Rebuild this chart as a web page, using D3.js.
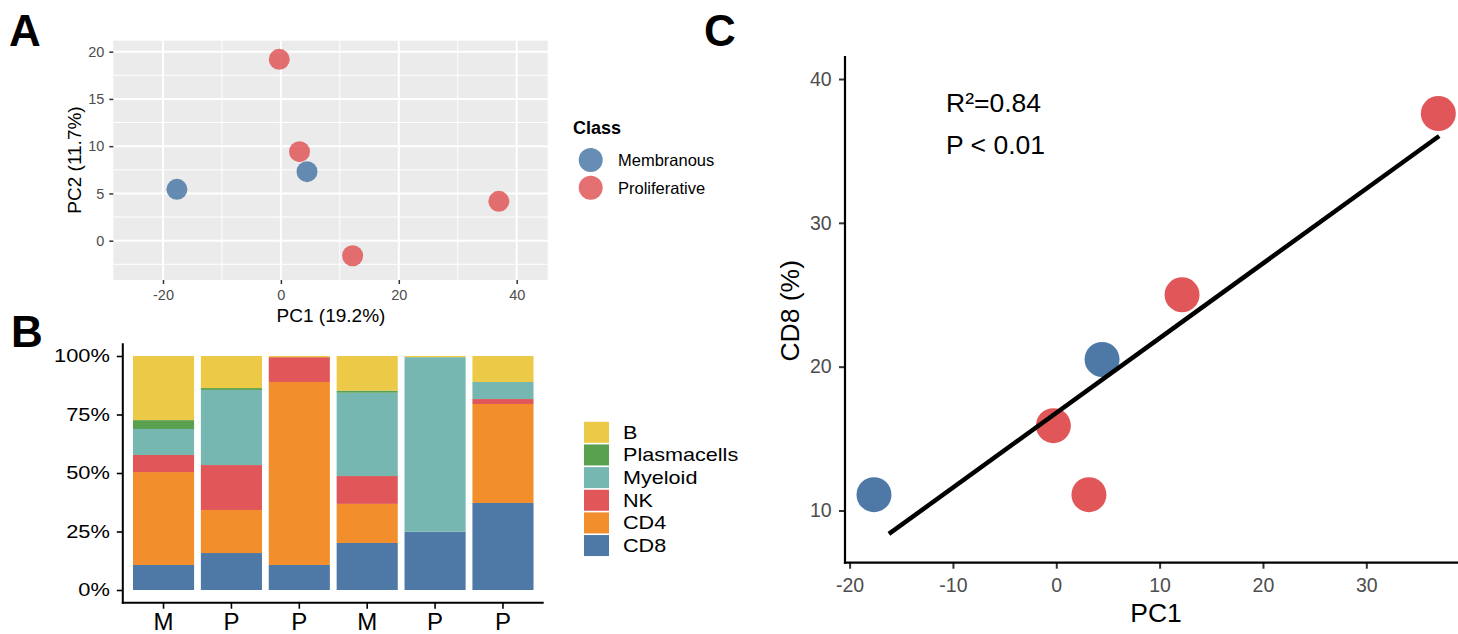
<!DOCTYPE html>
<html>
<head>
<meta charset="utf-8">
<script src="https://cdn.jsdelivr.net/npm/d3@7"></script>
<style>
  body { margin: 0; background: #fff; }
  svg { display: block; font-family: "Liberation Sans", Arial, Helvetica, sans-serif; }
</style>
</head>
<body>
<div id="chart"></div>
<script>
const W = 1458;
const H = 634;

// samples, in bar order
const sampleClass = ["M", "P", "P", "M", "P", "P"];
const pc1 = [-17.64, -0.28, 3.16, 4.43, 12.17, 36.97];
const pc2 = [5.43, 19.19, 9.42, 7.30, -1.59, 4.16];
const cd8Pct = [11.1, 15.9, 11.1, 20.5, 25.0, 37.6];

const classNames = ["Membranous", "Proliferative"];
const classCodes = ["M", "P"];

// cell fractions per sample (stacked bottom -> top)
const cellTypes = ["CD8", "CD4", "NK", "Myeloid", "Plasmacells", "B"];
const fracCD8 = [0.107, 0.158, 0.107, 0.201, 0.249, 0.372];
const fracCD4 = [0.397, 0.184, 0.782, 0.167, 0.000, 0.423];
const fracNK = [0.073, 0.192, 0.106, 0.119, 0.000, 0.021];
const fracMyeloid = [0.111, 0.321, 0.000, 0.356, 0.746, 0.073];
const fracPlasma = [0.038, 0.008, 0.000, 0.009, 0.000, 0.000];
const fracB = [0.274, 0.137, 0.005, 0.148, 0.005, 0.111];

// regression line ends and stats
const fitPC1 = [-16.2, 37.05];
const fitCD8 = [8.37, 36.04];
const statLines = ["R\u00B2=0.84", "P < 0.01"];

// tick values
const pcaXTicks = [-20, 0, 20, 40];
const pcaXMinor = [-10, 10, 30];
const pcaYTicks = [0, 5, 10, 15, 20];
const pcaYMinor = [-2.5, 2.5, 7.5, 12.5, 17.5];
const fracTicks = [0, 0.25, 0.5, 0.75, 1];
const corXTicks = [-20, -10, 0, 10, 20, 30];
const corYTicks = [10, 20, 30, 40];

const classColor = { M: "#4E79A7", P: "#E15759" };
const cellColor = {
  CD8: "#4E79A7", CD4: "#F28E2B", NK: "#E15759",
  Myeloid: "#76B7B2", Plasmacells: "#59A14F", B: "#EDC948"
};
const tickGrey = "#4D4D4D";
const plain = d => String(d);   // keep hyphen minus like R does

const svg = d3.select("#chart").append("svg")
  .attr("width", W).attr("height", H);

// panel letters
[["A", 9, 46], ["B", 11, 347], ["C", 704, 46]].forEach(([t, x, y]) => {
  svg.append("text").attr("x", x).attr("y", y)
    .attr("font-size", 44).attr("font-weight", "bold").text(t);
});

// ---------- A: PCA ----------
const xA = d3.scaleLinear().domain([-28.43, 45.26]).range([113.3, 547.7]);
const yA = d3.scaleLinear().domain([-4.16, 21.16]).range([280, 40.7]);

const gA = svg.append("g");
gA.append("rect")
  .attr("x", xA.range()[0]).attr("y", yA.range()[1])
  .attr("width", xA.range()[1] - xA.range()[0])
  .attr("height", yA.range()[0] - yA.range()[1])
  .attr("fill", "#EBEBEB");

function gridV(vals, sw) {
  gA.selectAll(null).data(vals).enter().append("line")
    .attr("x1", d => xA(d)).attr("x2", d => xA(d))
    .attr("y1", yA.range()[0]).attr("y2", yA.range()[1])
    .attr("stroke", "#fff").attr("stroke-width", sw);
}
function gridH(vals, sw) {
  gA.selectAll(null).data(vals).enter().append("line")
    .attr("y1", d => yA(d)).attr("y2", d => yA(d))
    .attr("x1", xA.range()[0]).attr("x2", xA.range()[1])
    .attr("stroke", "#fff").attr("stroke-width", sw);
}
gridV(pcaXMinor, 1);
gridH(pcaYMinor, 1);
gridV(pcaXTicks, 2);
gridH(pcaYTicks, 2);

const axA_x = gA.append("g").attr("transform", `translate(0,${yA.range()[0]})`)
  .call(d3.axisBottom(xA).tickValues(pcaXTicks).tickFormat(plain).tickSize(4).tickPadding(6));
const axA_y = gA.append("g").attr("transform", `translate(${xA.range()[0]},0)`)
  .call(d3.axisLeft(yA).tickValues(pcaYTicks).tickFormat(plain).tickSize(4).tickPadding(5));
[axA_x, axA_y].forEach(ax => {
  ax.select(".domain").remove();
  ax.selectAll("line").attr("stroke", "#333").attr("stroke-width", 1.5);
  ax.selectAll("text").attr("font-size", 14.5).attr("fill", tickGrey)
    .attr("font-family", "Liberation Sans, Arial, sans-serif");
});

gA.append("text").attr("x", 331).attr("y", 321.7).attr("text-anchor", "middle")
  .attr("font-size", 19).text("PC1 (19.2%)");
gA.append("text").attr("transform", "translate(81,160) rotate(-90)")
  .attr("text-anchor", "middle").attr("font-size", 19).text("PC2 (11.7%)");

gA.selectAll("circle.pt").data(d3.range(pc1.length)).enter().append("circle")
  .attr("class", "pt")
  .attr("cx", i => xA(pc1[i])).attr("cy", i => yA(pc2[i]))
  .attr("r", 10.5)
  .attr("fill", i => classColor[sampleClass[i]])
  .attr("fill-opacity", 0.85);

// legend A
gA.append("text").attr("x", 573).attr("y", 134).attr("font-size", 18)
  .attr("font-weight", "bold").text("Class");
classNames.forEach((name, i) => {
  const cy = 160 + i * 27.7;
  gA.append("circle").attr("cx", 590.7).attr("cy", cy).attr("r", 12)
    .attr("fill", classColor[classCodes[i]]).attr("fill-opacity", 0.85);
  gA.append("text").attr("x", 618).attr("y", cy + 6).attr("font-size", 16.5).text(name);
});

// ---------- B: stacked composition ----------
const fracByType = {
  CD8: fracCD8, CD4: fracCD4, NK: fracNK,
  Myeloid: fracMyeloid, Plasmacells: fracPlasma, B: fracB
};
const rows = sampleClass.map((c, i) => {
  const r = { idx: i, cls: c };
  cellTypes.forEach(t => { r[t] = fracByType[t][i]; });
  return r;
});
const stack = d3.stack().keys(cellTypes)(rows);

const xB = d3.scaleBand().domain(d3.range(sampleClass.length))
  .range([122.8, 543.7]).paddingInner(0.1).paddingOuter(0.15);
const yB = d3.scaleLinear().domain([0, 1]).range([590, 356]);
const stretchB = 1.18;

const gB = svg.append("g");
stack.forEach(layer => {
  gB.selectAll(null).data(layer).enter().append("rect")
    .attr("x", d => xB(d.data.idx))
    .attr("width", xB.bandwidth())
    .attr("y", d => yB(d[1]))
    .attr("height", d => Math.max(0, yB(d[0]) - yB(d[1])))
    .attr("fill", cellColor[layer.key]);
});

const axB_y = gB.append("g").attr("transform", "translate(122.8,0)")
  .call(d3.axisLeft(yB).tickValues(fracTicks).tickFormat(d3.format(".0%"))
    .tickSize(6).tickPadding(7));
axB_y.select(".domain").remove();
axB_y.selectAll("line").attr("stroke", "#000").attr("stroke-width", 1.6);
axB_y.selectAll("text").attr("font-size", 18.5).attr("fill", "#000")
  .attr("font-family", "Liberation Sans, Arial, sans-serif")
  .each(function () {
    const x = +this.getAttribute("x");
    d3.select(this).attr("x", 0)
      .attr("transform", `translate(${x},0) scale(${stretchB},1)`);
  });

const axB_x = gB.append("g").attr("transform", "translate(0,602.7)")
  .call(d3.axisBottom(xB).tickFormat(i => sampleClass[i]).tickSize(6).tickPadding(4));
axB_x.select(".domain").remove();
axB_x.selectAll("line").attr("stroke", "#000").attr("stroke-width", 1.6);
axB_x.selectAll("text").attr("font-size", 24).attr("fill", "#000")
  .attr("font-family", "Liberation Sans, Arial, sans-serif");

gB.append("line").attr("x1", 122.8).attr("x2", 122.8).attr("y1", 343.3).attr("y2", 603.7)
  .attr("stroke", "#000").attr("stroke-width", 2);
gB.append("line").attr("x1", 121.8).attr("x2", 543.7).attr("y1", 602.7).attr("y2", 602.7)
  .attr("stroke", "#000").attr("stroke-width", 2);

// legend B (top -> bottom is reverse of stacking)
cellTypes.slice().reverse().forEach((t, i) => {
  const cy = 432.3 + i * 22.65;
  gB.append("rect").attr("x", 584).attr("y", cy - 10.5).attr("width", 25).attr("height", 21)
    .attr("fill", cellColor[t]);
  gB.append("text").attr("transform", `translate(623,${cy + 6.5}) scale(1.2,1)`)
    .attr("font-size", 18).text(t);
});

// ---------- C: CD8 vs PC1 ----------
const xC = d3.scaleLinear().domain([-20, 30]).range([849.6, 1366.3]);
const yC = d3.scaleLinear().domain([10, 40]).range([510.5, 79]);
const gC = svg.append("g");

const axC_x = gC.append("g").attr("transform", "translate(0,562.7)")
  .call(d3.axisBottom(xC).tickValues(corXTicks).tickFormat(plain).tickSize(6).tickPadding(9));
const axC_y = gC.append("g").attr("transform", "translate(845,0)")
  .call(d3.axisLeft(yC).tickValues(corYTicks).tickFormat(plain).tickSize(6).tickPadding(7.3));
[axC_x, axC_y].forEach(ax => {
  ax.select(".domain").remove();
  ax.selectAll("line").attr("stroke", "#333").attr("stroke-width", 2);
  ax.selectAll("text").attr("font-size", 19.5).attr("fill", tickGrey)
    .attr("font-family", "Liberation Sans, Arial, sans-serif");
});
gC.append("line").attr("x1", 845).attr("x2", 845).attr("y1", 56).attr("y2", 563.8)
  .attr("stroke", "#000").attr("stroke-width", 2.2);
gC.append("line").attr("x1", 843.9).attr("x2", W).attr("y1", 562.7).attr("y2", 562.7)
  .attr("stroke", "#000").attr("stroke-width", 2.2);

gC.selectAll("circle").data(d3.range(pc1.length)).enter().append("circle")
  .attr("cx", i => xC(pc1[i])).attr("cy", i => yC(cd8Pct[i]))
  .attr("r", 17.5)
  .attr("fill", i => classColor[sampleClass[i]]);

gC.append("line")
  .attr("x1", xC(fitPC1[0])).attr("y1", yC(fitCD8[0]))
  .attr("x2", xC(fitPC1[1])).attr("y2", yC(fitCD8[1]))
  .attr("stroke", "#000").attr("stroke-width", 4.5);

statLines.forEach((s, i) => {
  gC.append("text").attr("x", 946).attr("y", 111.7 + i * 42.3)
    .attr("font-size", 26.5).text(s);
});

gC.append("text").attr("x", 1156).attr("y", 622.3).attr("text-anchor", "middle")
  .attr("font-size", 26.5).text("PC1");
gC.append("text").attr("transform", "translate(799,310.8) rotate(-90)")
  .attr("text-anchor", "middle").attr("font-size", 26.5).text("CD8 (%)");
</script>
</body>
</html>
